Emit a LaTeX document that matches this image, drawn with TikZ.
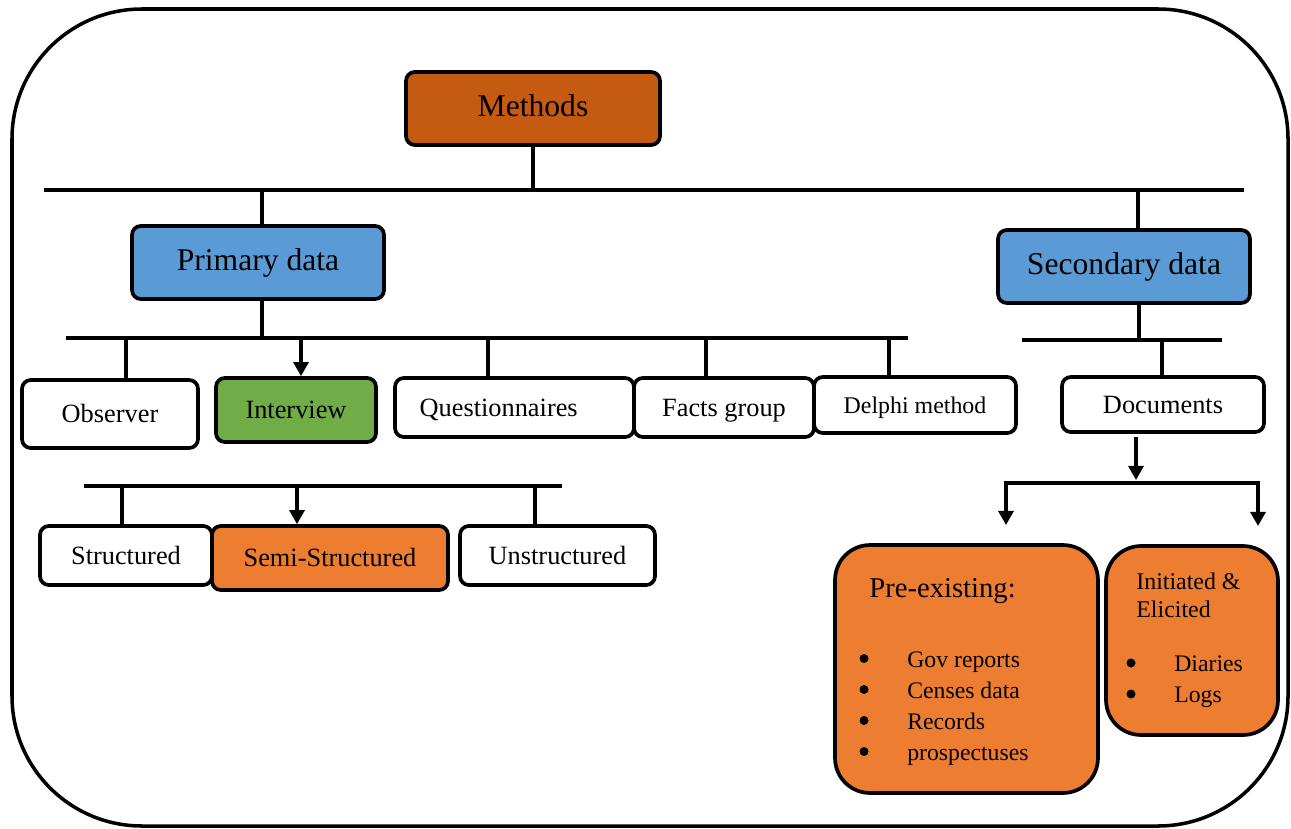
\documentclass[tikz,border=0pt]{standalone}
\usepackage{fontspec}
\setmainfont{Liberation Serif}
\usetikzlibrary{arrows.meta,positioning}
\definecolor{methc}{RGB}{197,90,17}
\definecolor{datac}{RGB}{91,155,213}
\definecolor{intc}{RGB}{112,173,71}
\definecolor{orc}{RGB}{237,125,49}
\tikzset{
  box/.style={draw, line width=2.1pt, rounded corners=5pt, inner sep=0pt, align=center, text depth=0pt},
  bigbox/.style={box, fill=datac, text height=9.6pt, font=\fontsize{18}{20}\selectfont},
  smallbox/.style={box, fill=white, text height=10pt, font=\fontsize{15}{17}\selectfont},
  link/.style={line width=1.9pt},
  linkarrow/.style={line width=1.9pt, -{Triangle[length=8pt,width=8.5pt]}},
  item/.style={anchor=base west, inner sep=0pt, font=\fontsize{13.5}{16}\selectfont}
}
\begin{document}
\begin{tikzpicture}[x=0.02cm, y=-0.02cm]
\useasboundingbox (0,0) rectangle (1291,828);
% outer frame
\draw[line width=2pt, rounded corners=2.6cm] (12,9) rectangle (1288,826);

% top level
\node[bigbox, fill=methc, minimum width=5.08cm, minimum height=1.46cm] (meth) at (533,108.5) {Methods};
\node[bigbox, minimum width=5.04cm, minimum height=1.46cm] (prim) at (258,262.5) {Primary data};
\node[bigbox, minimum width=5.04cm, minimum height=1.46cm] (sec) at (1124,266.5) {Secondary data};

\coordinate (topL) at (44,190);
\coordinate (topR) at (1244,190);
\coordinate (topS) at (1138,190);
\draw[link] (topL) -- (topR);
\draw[link] (meth.south) -- (meth.south |- topL);
\draw[link] ([xshift=0.08cm]prim.north) -- ([xshift=0.08cm]prim.north |- topL);
\draw[link] (topS) -- (topS |- sec.north);

% primary data methods
\node[smallbox, minimum width=3.52cm, minimum height=1.36cm] (obs) at (110,414) {Observer};
\node[smallbox, fill=intc, minimum width=3.2cm, minimum height=1.28cm] (intv) at (296,410) {Interview};
\node[smallbox, minimum width=4.78cm, minimum height=1.18cm] (quest) at (514.5,407.5) {Questionnaires\hspace{18pt}};
\node[smallbox, minimum width=3.6cm, minimum height=1.18cm] (facts) at (724,407.5) {Facts group};
\node[smallbox, font=\fontsize{13.6}{16}\selectfont, minimum width=4.04cm, minimum height=1.12cm] (delphi) at (915,405) {Delphi method};

\coordinate (pbarL) at (66,338);
\coordinate (pbarR) at (908,338);
\coordinate (pObs) at (126,338);
\coordinate (pInt) at (301,338);
\coordinate (pQue) at (488,338);
\coordinate (pFac) at (706,338);
\coordinate (pDel) at (889,338);
\draw[link] (pbarL) -- (pbarR);
\draw[link] ([xshift=0.08cm]prim.south) -- ([xshift=0.08cm]prim.south |- pbarL);
\draw[link] (pObs) -- (pObs |- obs.north);
\draw[linkarrow] (pInt) -- (pInt |- intv.north);
\draw[link] (pQue) -- (pQue |- quest.north);
\draw[link] (pFac) -- (pFac |- facts.north);
\draw[link] (pDel) -- (pDel |- delphi.north);

% interview types
\node[smallbox, minimum width=3.44cm, minimum height=1.18cm] (struc) at (126,555.5) {Structured};
\node[smallbox, fill=orc, minimum width=4.72cm, minimum height=1.28cm] (semi) at (330,558) {Semi-Structured};
\node[smallbox, minimum width=3.9cm, minimum height=1.18cm] (unstr) at (557.5,555.5) {Unstructured};

\coordinate (ibarL) at (84,486);
\coordinate (ibarR) at (562,486);
\coordinate (iStr) at (122,486);
\coordinate (iSem) at (297,486);
\coordinate (iUns) at (535,486);
\draw[link] (ibarL) -- (ibarR);
\draw[link] (iStr) -- (iStr |- struc.north);
\draw[linkarrow] (iSem) -- (iSem |- semi.north);
\draw[link] (iUns) -- (iUns |- unstr.north);

% secondary data
\node[smallbox, minimum width=4.04cm, minimum height=1.1cm] (docs) at (1163,404.5) {Documents};

\coordinate (sbarL) at (1022,340);
\coordinate (sbarR) at (1222,340);
\coordinate (sSec) at (1139,340);
\coordinate (sDoc) at (1162,340);
\draw[link] (sbarL) -- (sbarR);
\draw[link] (sSec |- sec.south) -- (sSec);
\draw[link] (sDoc) -- (sDoc |- docs.north);

\coordinate (dTop) at (1136,437);
\coordinate (dMid) at (1136,480);
\coordinate (dbarL) at (1004,483);
\coordinate (dbarR) at (1260,483);
\coordinate (dL) at (1006,483);
\coordinate (dR) at (1258,483);
\draw[linkarrow] (dTop) -- (dMid);
\draw[link] (dbarL) -- (dbarR);
\draw[linkarrow] (dL) -- ++(0,42);
\draw[linkarrow] (dR) -- ++(0,43);

% document kinds
\node[box, fill=orc, rounded corners=0.7cm, minimum width=5.26cm, minimum height=4.96cm] (pre) at (966.5,669) {};
\node[box, fill=orc, rounded corners=0.7cm, minimum width=3.44cm, minimum height=3.78cm] (ini) at (1192,640.5) {};

\node[item, font=\fontsize{16.3}{18}\selectfont] (pretitle) at (869,597) {Pre-existing:};
\foreach \txt/\nm [count=\i] in {Gov reports/gov, Censes data/cens, Records/rec, prospectuses/pros}{
  \node[item] (\nm) at (907,636+31*\i) {\txt};
  \fill (864,627.5+31*\i) circle[radius=0.09cm];
}

\node[item, font=\fontsize{13.6}{16}\selectfont] (initd) at (1136,589) {Initiated \&};
\node[item, font=\fontsize{13.6}{16}\selectfont] (elic) at (1136,617) {Elicited};
\node[item] (diar) at (1174,671) {Diaries};
\node[item] (logs) at (1174,702) {Logs};
\fill (1131,663) circle[radius=0.09cm];
\fill (1131,694) circle[radius=0.09cm];
\end{tikzpicture}
\end{document}
